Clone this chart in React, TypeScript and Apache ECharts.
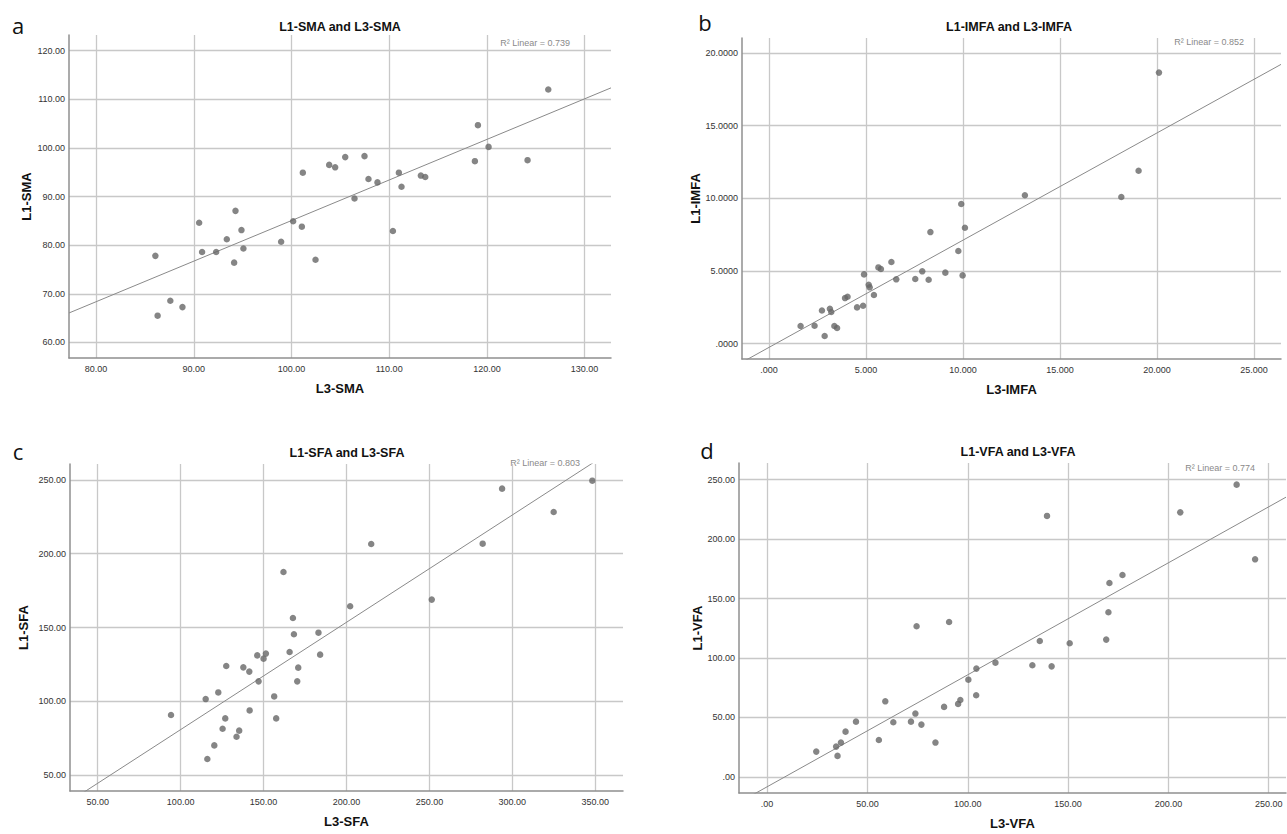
import React, { useEffect, useRef } from "react";
import * as echarts from "echarts";

// Panel a: SMA
const aX = [86.07, 86.3, 87.6, 88.84, 90.55, 90.85, 92.29, 93.38, 94.27, 94.13, 94.88, 95.08, 98.94, 100.17, 101.06, 101.16, 102.46, 103.86, 104.47, 105.5, 106.45, 107.47, 107.88, 108.8, 110.99, 111.26, 110.38, 113.24, 113.69, 118.77, 119.08, 120.17, 124.16, 126.28];
const aY = [77.8, 65.5, 68.56, 67.26, 84.6, 78.6, 78.6, 81.2, 87.05, 76.4, 83.1, 79.3, 80.7, 84.9, 83.8, 94.9, 77.0, 96.5, 96.0, 98.1, 89.6, 98.3, 93.6, 92.9, 94.9, 92.0, 82.9, 94.3, 94.0, 97.26, 104.66, 100.2, 97.47, 112.0];
// Panel b: IMFA
const bX = [1.63, 2.35, 2.73, 2.87, 3.14, 3.21, 3.37, 3.51, 3.92, 4.05, 4.54, 4.85, 4.9, 5.14, 5.19, 5.41, 5.64, 5.77, 6.31, 6.56, 7.54, 7.9, 8.23, 8.32, 9.09, 9.76, 9.91, 9.98, 10.1, 13.19, 18.16, 19.05, 20.1];
const bY = [1.22, 1.24, 2.29, 0.53, 2.41, 2.18, 1.22, 1.08, 3.14, 3.23, 2.5, 2.61, 4.77, 4.06, 3.88, 3.35, 5.25, 5.14, 5.62, 4.43, 4.45, 4.98, 4.4, 7.68, 4.89, 6.38, 9.61, 4.7, 7.98, 10.21, 10.09, 11.9, 18.65];
// Panel c: SFA
const cX = [94.2, 115.1, 116.1, 120.3, 122.7, 125.3, 126.9, 127.5, 133.7, 135.3, 137.8, 141.4, 141.6, 146.2, 147.0, 150.0, 151.4, 156.4, 157.6, 162.0, 165.7, 167.7, 168.3, 170.9, 170.3, 183.1, 184.1, 202.2, 214.9, 251.4, 282.1, 293.8, 324.9, 348.2];
const cY = [90.7, 101.5, 60.9, 70.1, 106.0, 81.4, 88.4, 123.9, 76.0, 80.1, 123.0, 120.1, 93.8, 131.1, 113.5, 128.9, 132.3, 103.3, 88.4, 187.6, 133.4, 156.4, 145.4, 122.8, 113.5, 146.5, 131.6, 164.4, 206.6, 168.9, 206.8, 244.1, 228.3, 249.5];
// Panel d: VFA
const dX = [24.5, 34.4, 35.1, 36.8, 39.1, 44.3, 55.7, 58.9, 62.9, 71.7, 73.9, 74.5, 76.9, 83.9, 88.2, 90.7, 95.2, 96.3, 100.3, 104.3, 104.2, 113.8, 132.2, 135.9, 139.5, 141.8, 150.8, 169.0, 170.1, 170.6, 177.1, 205.9, 234.0, 243.2];
const dY = [21.3, 25.5, 17.7, 28.9, 38.1, 46.5, 31.1, 63.6, 46.0, 46.5, 53.3, 126.7, 44.0, 28.9, 58.9, 130.3, 61.4, 64.7, 81.8, 91.1, 68.7, 96.1, 93.9, 114.3, 219.5, 93.0, 112.4, 115.5, 138.5, 163.1, 169.8, 222.5, 245.8, 183.0];

// Tick values
const aXTicks = [80, 90, 100, 110, 120, 130];
const aYTicks = [60, 70, 80, 90, 100, 110, 120];
const bXTicks = [0, 5, 10, 15, 20, 25];
const bYTicks = [0, 5, 10, 15, 20];
const cXTicks = [50, 100, 150, 200, 250, 300, 350];
const cYTicks = [50, 100, 150, 200, 250];
const dXTicks = [0, 50, 100, 150, 200, 250];
const dYTicks = [0, 50, 100, 150, 200, 250];

const titles = ["L1-SMA and L3-SMA", "L1-IMFA and L3-IMFA", "L1-SFA and L3-SFA", "L1-VFA and L3-VFA"];
const xNames = ["L3-SMA", "L3-IMFA", "L3-SFA", "L3-VFA"];
const yNames = ["L1-SMA", "L1-IMFA", "L1-SFA", "L1-VFA"];
const r2Values = ["0.739", "0.852", "0.803", "0.774"];
const letters = ["a", "b", "c", "d"];

const FONT = "'Liberation Sans', Arial, sans-serif";

function fmt(v: number, d: number) {
  const s = v.toFixed(d);
  return s.startsWith("0.") ? s.slice(1) : s;
}

function fit(xs: number[], ys: number[]) {
  const n = xs.length;
  const mx = xs.reduce((s, v) => s + v, 0) / n;
  const my = ys.reduce((s, v) => s + v, 0) / n;
  let sxy = 0, sxx = 0;
  for (let i = 0; i < n; i++) {
    sxy += (xs[i] - mx) * (ys[i] - my);
    sxx += (xs[i] - mx) * (xs[i] - mx);
  }
  const b = sxy / sxx;
  return { a: my - b * mx, b };
}

export default function App() {
  const ref = useRef<HTMLDivElement>(null);
  useEffect(() => {
    if (!ref.current) return;
    const chart = echarts.init(ref.current, undefined, { renderer: "svg" });

    const panels = [
      { xs: aX, ys: aY, xT: aXTicks, yT: aYTicks, xd: 2, yd: 2, grid: { left: 69, top: 35, width: 542, height: 323 }, xr: [77.23, 132.7], yr: [56.8, 123.2], yGap: 36, r2: { x: 570, y: 43 }, title: { x: 340, y: 27 }, letter: { x: 18, y: 25 } },
      { xs: bX, ys: bY, xT: bXTicks, yT: bYTicks, xd: 3, yd: 4, grid: { left: 742, top: 38, width: 539, height: 321 }, xr: [-1.39, 26.39], yr: [-1.05, 21.03], yGap: 36, r2: { x: 1244, y: 42 }, title: { x: 1009, y: 27 }, letter: { x: 705, y: 22 } },
      { xs: cX, ys: cY, xT: cXTicks, yT: cYTicks, xd: 2, yd: 2, grid: { left: 70, top: 464, width: 553, height: 327 }, xr: [33.3, 366.7], yr: [39.2, 260.8], yGap: 40, r2: { x: 580, y: 463 }, title: { x: 347, y: 453 }, letter: { x: 18, y: 451 } },
      { xs: dX, ys: dY, xT: dXTicks, yT: dYTicks, xd: 2, yd: 2, grid: { left: 739, top: 463, width: 547, height: 330 }, xr: [-14, 258.6], yr: [-13.5, 264], yGap: 26, r2: { x: 1255, y: 468 }, title: { x: 1018, y: 452 }, letter: { x: 707, y: 450 } },
    ];

    const grids: any[] = [];
    const xAxes: any[] = [];
    const yAxes: any[] = [];
    const series: any[] = [];
    const graphics: any[] = [];

    panels.forEach((p, i) => {
      grids.push({ ...p.grid, containLabel: false });
      const common = {
        gridIndex: i,
        type: "value",
        axisLine: { show: true, onZero: false, lineStyle: { color: "#8f8f8f", width: 1.5 } },
        splitLine: { show: true, lineStyle: { color: "#c8c8c8", width: 1.3 } },
        nameTextStyle: { fontFamily: FONT, fontWeight: "bold", fontSize: 13, color: "#111" },
        nameLocation: "middle",
      };
      xAxes.push({
        ...common,
        min: p.xr[0],
        max: p.xr[1],
        name: xNames[i],
        nameGap: 24,
        axisTick: { show: false, customValues: p.xT },
        axisLabel: { customValues: p.xT, formatter: (v: number) => fmt(v, p.xd), fontFamily: FONT, fontSize: 9, color: "#333", margin: 6 },
      });
      yAxes.push({
        ...common,
        min: p.yr[0],
        max: p.yr[1],
        name: yNames[i],
        nameGap: p.yGap,
        axisTick: { show: false, customValues: p.yT },
        axisLabel: { customValues: p.yT, formatter: (v: number) => fmt(v, p.yd), fontFamily: FONT, fontSize: 9, color: "#333", margin: 4 },
      });
      series.push({
        type: "scatter",
        xAxisIndex: i,
        yAxisIndex: i,
        data: p.xs.map((x, k) => [x, p.ys[k]]),
        symbolSize: 6.5,
        itemStyle: { color: "#676767" },
        z: 3,
      });
      const f = fit(p.xs, p.ys);
      series.push({
        type: "line",
        xAxisIndex: i,
        yAxisIndex: i,
        data: [
          [p.xr[0], f.a + f.b * p.xr[0]],
          [p.xr[1], f.a + f.b * p.xr[1]],
        ],
        showSymbol: false,
        symbol: "none",
        clip: true,
        lineStyle: { color: "#8a8a8a", width: 1 },
        z: 2,
      });
      graphics.push({
        type: "text",
        x: p.title.x,
        y: p.title.y,
        style: { text: titles[i], fontFamily: FONT, fontWeight: "bold", fontSize: 12.5, fill: "#111", textAlign: "center", textVerticalAlign: "middle" },
      });
      graphics.push({
        type: "text",
        x: p.r2.x,
        y: p.r2.y,
        style: { text: "R² Linear = " + r2Values[i], fontFamily: FONT, fontSize: 9, fill: "#8a8a8a", textAlign: "right", textVerticalAlign: "middle" },
      });
      graphics.push({
        type: "text",
        x: p.letter.x,
        y: p.letter.y,
        style: { text: letters[i], fontFamily: "'Open Sans', 'Noto Sans', sans-serif", fontSize: 22, fill: "#111", textAlign: "center", textVerticalAlign: "middle" },
      });
    });

    chart.setOption({
      animation: false,
      backgroundColor: "#ffffff",
      grid: grids,
      xAxis: xAxes,
      yAxis: yAxes,
      series,
      graphic: graphics,
    });
    return () => chart.dispose();
  }, []);
  return <div ref={ref} style={{ position: "absolute", left: 0, top: 0, width: 1287, height: 834 }} />;
}
